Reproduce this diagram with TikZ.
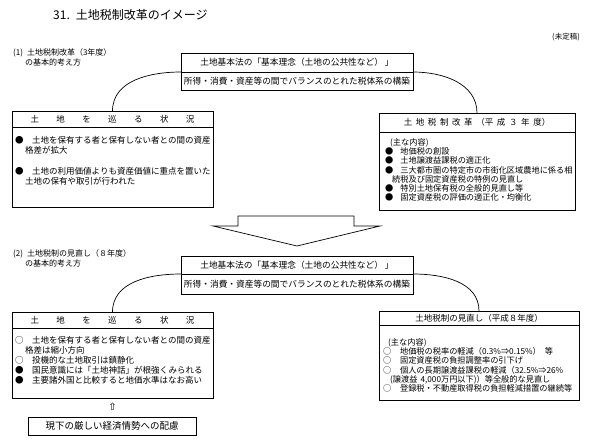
\documentclass[tikz,border=0pt]{standalone}
\usepackage{fontspec}
\setmainfont{Noto Sans CJK JP}
\newfontfamily\arrowfont{DejaVu Sans}
\def\gsp{\hspace{17.4pt}}
\def\lsp{\hspace{3.6pt}}
\tikzset{
  cell/.style={draw, line width=0.6pt, rectangle, inner sep=0pt, outer sep=0pt},
  body/.style={align=left, inner sep=0pt, anchor=north west},
  fa/.style={font=\fontsize{8.5}{9.5}\selectfont},
  fl/.style={font=\fontsize{8.5}{9.8}\selectfont},
  fb/.style={font=\fontsize{8.2}{9.2}\selectfont},
  ft/.style={font=\fontsize{8.7}{9}\selectfont},
  conn/.style={line width=0.7pt},
}
\begin{document}
\begin{tikzpicture}[x=1pt,y=-1pt]
\useasboundingbox (0,0) rectangle (592,445);
% title
\node[anchor=west, inner sep=0pt, font=\fontsize{12}{12}\selectfont] (title) at (53,15) {31.\hspace{6pt}土地税制改革のイメージ};
\node[anchor=east, inner sep=0pt, font=\fontsize{7.5}{8}\selectfont] (draft) at (580,37) {(未定稿)};
% ---------- part 1
\node[body, font=\fontsize{8}{10}\selectfont] (lab1) at (13,48) {(1)\hspace{4pt}土地税制改革（3年度）\\\hspace*{12pt}の基本的考え方};
\node[cell, ft, minimum width=232pt, minimum height=19pt] (tb1a) at (297,62.5) {土地基本法の「基本理念（土地の公共性など）\hspace{2pt}」};
\node[cell, ft, minimum width=232pt, minimum height=18pt] (tb1b) at (297,81) {所得・消費・資産等の間でバランスのとれた税体系の構築};
% left box 1
\node[cell, fa, minimum width=201pt, minimum height=16pt] (lb1h) at (112.5,119) {土\gsp 地\gsp を\gsp 巡\gsp る\gsp 状\gsp 況};
\node[cell, minimum width=201pt, minimum height=80pt] (lb1b) at (112.5,167) {};
\node[body, fa] (lb1t) at (15,136.5) {●\hspace{8.5pt}土地を保有する者と保有しない者との間の資産\\\hspace*{10pt}格差が拡大\\[12pt]●\hspace{8.5pt}土地の利用価値よりも資産価値に重点を置いた\\\hspace*{10pt}土地の保有や取引が行われた};
% right box 1
\node[cell, fa, minimum width=196pt, minimum height=19pt] (rb1h) at (477,122.5) {土\lsp 地\lsp 税\lsp 制\lsp 改\lsp 革\lsp （平\lsp 成\lsp ３\lsp 年\lsp 度）};
\node[cell, minimum width=196pt, minimum height=78pt] (rb1b) at (477,171) {};
\node[body, fb] (rb1t) at (385,138.5) {\hspace*{5pt}(主な内容)\\●\hspace{7pt}地価税の創設\\●\hspace{7pt}土地譲渡益課税の適正化\\●\hspace{7pt}三大都市圏の特定市の市街化区域農地に係る相\\\hspace*{7pt}続税及び固定資産税の特例の見直し\\●\hspace{7pt}特別土地保有税の全般的見直し等\\●\hspace{7pt}固定資産税の評価の適正化・均衡化};
% connectors 1
\draw[conn] (tb1a.south west) to[out=180,in=90] (lb1h.north);
\draw[conn] (tb1a.south east) to[out=0,in=90] (rb1h.north);
% big arrow
\draw[line width=0.7pt, line join=miter] (238,216) -- (354,216) -- (354,226) -- (380,226) -- (297,246) -- (213,226) -- (238,226) -- cycle;
% ---------- part 2
\node[body, font=\fontsize{8}{10}\selectfont] (lab2) at (13,249) {(2)\hspace{4pt}土地税制の見直し（８年度）\\\hspace*{12pt}の基本的考え方};
\node[cell, ft, minimum width=232pt, minimum height=18pt] (tb2a) at (297,265) {土地基本法の「基本理念（土地の公共性など）\hspace{2pt}」};
\node[cell, ft, minimum width=232pt, minimum height=20pt] (tb2b) at (297,284) {所得・消費・資産等の間でバランスのとれた税体系の構築};
% left box 2
\node[cell, fa, minimum width=201pt, minimum height=16pt] (lb2h) at (112.5,320) {土\gsp 地\gsp を\gsp 巡\gsp る\gsp 状\gsp 況};
\node[cell, minimum width=201pt, minimum height=70pt] (lb2b) at (112.5,363) {};
\node[body, fl] (lb2t) at (15,336.5) {○\hspace{8.5pt}土地を保有する者と保有しない者との間の資産\\\hspace*{10pt}格差は縮小方向\\○\hspace{8.5pt}投機的な土地取引は鎮静化\\●\hspace{8.5pt}国民意識には「土地神話」が根強くみられる\\●\hspace{8.5pt}主要諸外国と比較すると地価水準はなお高い};
\node[inner sep=0pt, font=\arrowfont\fontsize{10}{10}\selectfont] (up) at (112.5,407) {⇧};
\node[cell, font=\fontsize{9.5}{10}\selectfont, minimum width=168pt, minimum height=18pt] (econ) at (112,426) {現下の厳しい経済情勢への配慮};
% right box 2
\node[cell, fa, minimum width=200pt, minimum height=14pt] (rb2h) at (479,318) {土地税制の見直し（平成８年度）};
\node[cell, minimum width=200pt, minimum height=75pt] (rb2b) at (479,362.5) {};
\node[body, fb] (rb2t) at (383,338.5) {\hspace*{5pt}(主な内容)\\○\hspace{8.7pt}地価税の税率の軽減（0.3\%⇒0.15\%）\hspace{4pt}等\\○\hspace{8.7pt}固定資産税の負担調整率の引下げ\\○\hspace{8.7pt}個人の長期譲渡益課税の軽減（32.5\%⇒26\%\\\hspace*{7pt}(譲渡益\hspace{3pt}4,000万円以下)）等全般的な見直し\\○\hspace{8.7pt}登録税・不動産取得税の負担軽減措置の継続等};
% connectors 2
\draw[conn] (tb2a.south west) to[out=180,in=90] (lb2h.north);
\draw[conn] (tb2a.south east) to[out=0,in=90] (rb2h.north);
\end{tikzpicture}
\end{document}
